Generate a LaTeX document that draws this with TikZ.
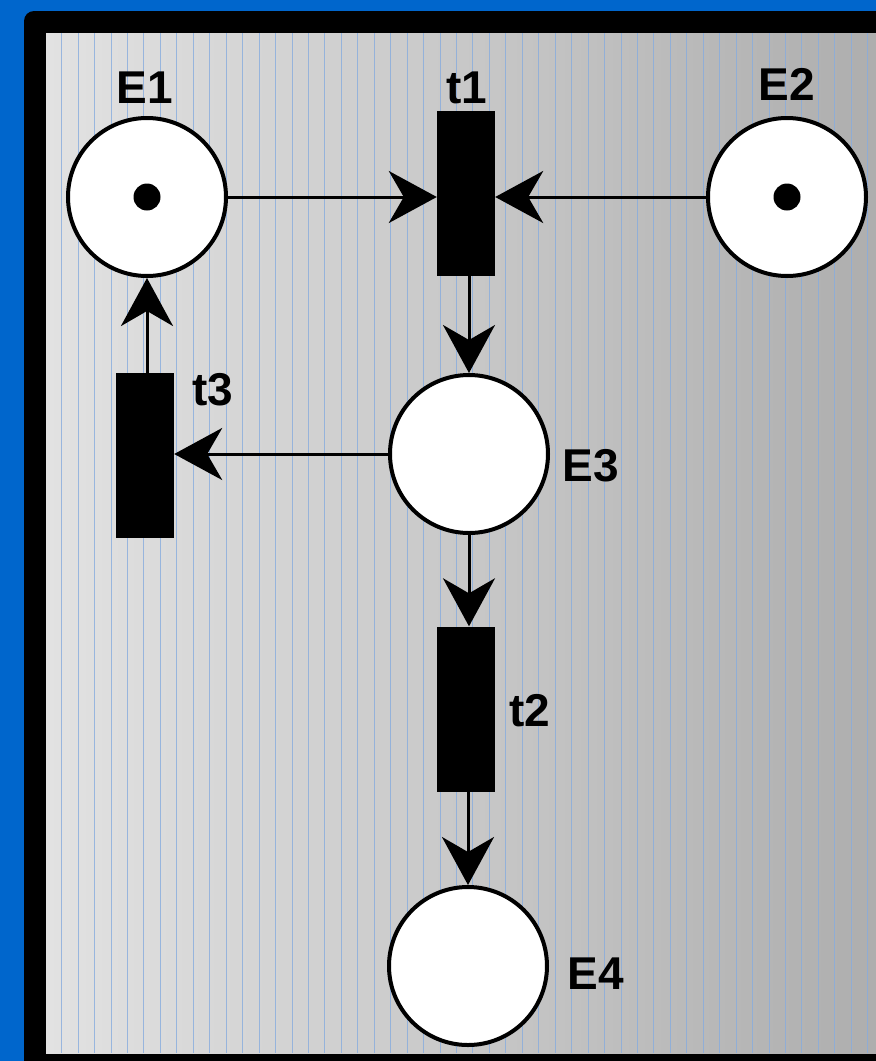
\documentclass[tikz,border=0pt]{standalone}
\usepackage{fontspec}
\setmainfont{Liberation Sans}
\usetikzlibrary{arrows.meta}
\definecolor{bgblue}{RGB}{0,102,204}
\definecolor{gleft}{RGB}{226,226,226}
\definecolor{gright}{RGB}{174,174,174}
\definecolor{vline}{RGB}{135,172,222}
\tikzset{
  place/.style={circle,draw=black,line width=4pt,fill=white,minimum size=158pt,inner sep=0pt},
  trans/.style={rectangle,fill=black,minimum width=58pt,minimum height=165pt,inner sep=0pt},
  token/.style={circle,fill=black,minimum size=27pt,inner sep=0pt},
  lbl/.style={inner sep=0pt,font=\bfseries\fontsize{46}{46}\selectfont},
  arc/.style={line width=3pt,-{Stealth[length=48pt,width=52pt,inset=15pt]}},
  stripe/.style={draw=vline,line width=1pt,opacity=0.8}
}
\begin{document}
\begin{tikzpicture}[x=1pt,y=-1pt]
\useasboundingbox (0,0) rectangle (876,1061);
\clip (0,0) rectangle (876,1061);
% background
\fill[bgblue] (0,0) rectangle (876,1061);
\fill[black,rounded corners=10pt] (24,11) rectangle (930,1110);
\shade[left color=gleft,right color=gright] (46,33) rectangle (876,1053);
\foreach \k in {0,...,49} {
  \draw[stripe] ({61.7+16.45*\k},33) -- ({61.7+16.45*\k},1053);
}
% places
\node[place] (E1) at (147,197) {};
\node[place] (E2) at (787,197) {};
\node[place] (E3) at (469,454) {};
\node[place] (E4) at (468,966) {};
\node[token] (k1) at (E1) {};
\node[token] (k2) at (E2) {};
% transitions
\node[trans] (t1) at (466,193.5) {};
\node[trans] (t2) at (466,709) {};
\node[trans] (t3) at (145,455.5) {};
% labels
\node[lbl] (lE1) at (145,88) {E1};
\node[lbl] (lt1) at (467,88) {t1};
\node[lbl] (lE2) at (787,84) {E2};
\node[lbl] (lt3) at (213,390) {t3};
\node[lbl] (lE3) at (591,466) {E3};
\node[lbl] (lt2) at (530,711) {t2};
\node[lbl] (lE4) at (596,974) {E4};
% arcs
\draw[arc] (E1.east) -- (E1.east -| t1.west);
\draw[arc] (E2.west) -- (E2.west -| t1.east);
\draw[arc] (t1.south -| E3.north) -- (E3.north);
\draw[arc] (E3.south) -- (E3.south |- t2.north);
\draw[arc] (t2.south -| E4.north) -- (E4.north);
\draw[arc] (E3.west) -- (E3.west -| t3.east);
\draw[arc] (t3.north -| E1.south) -- (E1.south);
\end{tikzpicture}
\end{document}
